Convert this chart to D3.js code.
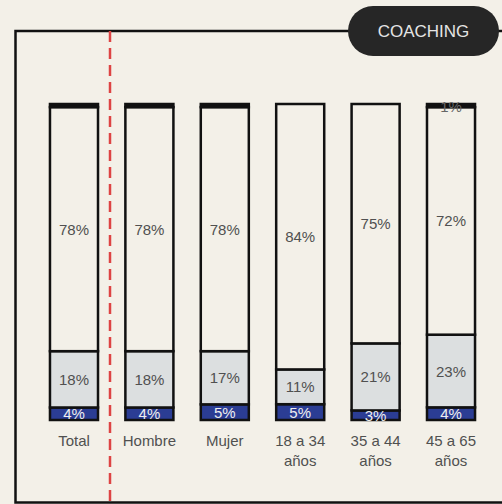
<!DOCTYPE html>
<html><head><meta charset="utf-8">
<script src="https://cdn.jsdelivr.net/npm/d3@7"></script>
<style>
html,body{margin:0;padding:0;background:#f3f0e8;}
svg{display:block;}
text{font-family:"Liberation Sans",Arial,Helvetica,sans-serif;}
</style></head>
<body>
<svg id="chart" width="502" height="504"></svg>
<script>
const categories = ["Total","Hombre","Mujer","18 a 34\naños","35 a 44\naños","45 a 65\naños"];
const bajo   = [4,4,5,5,3,4];        // blue
const medio  = [18,18,17,11,21,23];  // grey
const alto   = [78,78,78,84,75,72];  // white
const nsnc   = [1,1,1,0,0,1];        // black top
const nsncLabels = ["","","","","","1%"];
const title = "COACHING";

const seriesKeys = ["bajo","medio","alto","nsnc"];
const colors = {bajo:"#2b3d94", medio:"#dcdfe0", alto:"#f3f0e8", nsnc:"#111111"};
const textColors = {bajo:"#eeeeee", medio:"#505050", alto:"#505050", nsnc:"#666666"};

const rows = categories.map((c,i)=>({cat:c, bajo:bajo[i], medio:medio[i], alto:alto[i], nsnc:nsnc[i], i}));

const svg = d3.select("#chart");
svg.append("rect").attr("width",502).attr("height",504).attr("fill","#f3f0e8");

const x = d3.scaleBand().domain(categories).range([22.6,502.4]).padding(0.363);
const y = d3.scaleLinear().domain([0,1]).range([420,104]);

const stack = d3.stack().keys(seriesKeys).offset(d3.stackOffsetExpand);
const stacked = stack(rows);

// frame
const frame = svg.append("g").attr("stroke","#111").attr("stroke-width",2.5).attr("fill","none");
frame.append("path").attr("d","M350,31 H15.5 V502.5 H502");
frame.append("path").attr("d","M495,31 H502");

// red dashed separator
svg.append("line").attr("x1",110).attr("x2",110).attr("y1",31).attr("y2",504)
  .attr("stroke","#dd4444").attr("stroke-width",2.5).attr("stroke-dasharray","11,6");

// pill
svg.append("rect").attr("x",348).attr("y",6).attr("width",151).attr("height",50).attr("rx",25)
  .attr("fill","#262626");
svg.append("text").attr("x",423.5).attr("y",31).attr("text-anchor","middle")
  .attr("dominant-baseline","central").attr("font-size",17).attr("fill","#e4e4e4").text(title);

// bars
const bw = x.bandwidth();
stacked.forEach(s=>{
  svg.append("g").selectAll("rect").data(s).join("rect")
    .attr("x",d=>x(d.data.cat))
    .attr("y",d=>y(d[1]))
    .attr("width",bw)
    .attr("height",d=>Math.max(0,y(d[0])-y(d[1])))
    .attr("fill",colors[s.key])
    .attr("stroke","#111").attr("stroke-width",2.5);
});

// labels
stacked.forEach(s=>{
  svg.append("g").selectAll("text").data(s).join("text")
    .attr("x",d=>x(d.data.cat)+bw/2)
    .attr("y",d=>(y(d[0])+y(d[1]))/2 + (s.key==="nsnc"?1:0))
    .attr("text-anchor","middle").attr("dominant-baseline","central")
    .attr("font-size",15).attr("fill",textColors[s.key])
    .text(d=> s.key==="nsnc" ? nsncLabels[d.data.i] : d.data[s.key]+"%");
});

// category labels
const cl = svg.append("g").selectAll("text").data(categories).join("text")
  .attr("x",d=>x(d)+bw/2).attr("y",446)
  .attr("text-anchor","middle").attr("font-size",15).attr("fill","#505050");
cl.each(function(d){
  const lines = d.split("\n");
  d3.select(this).selectAll("tspan").data(lines).join("tspan")
    .attr("x",x(d)+bw/2).attr("dy",(l,i)=>i===0?0:20).text(l=>l);
});
</script>
</body></html>
